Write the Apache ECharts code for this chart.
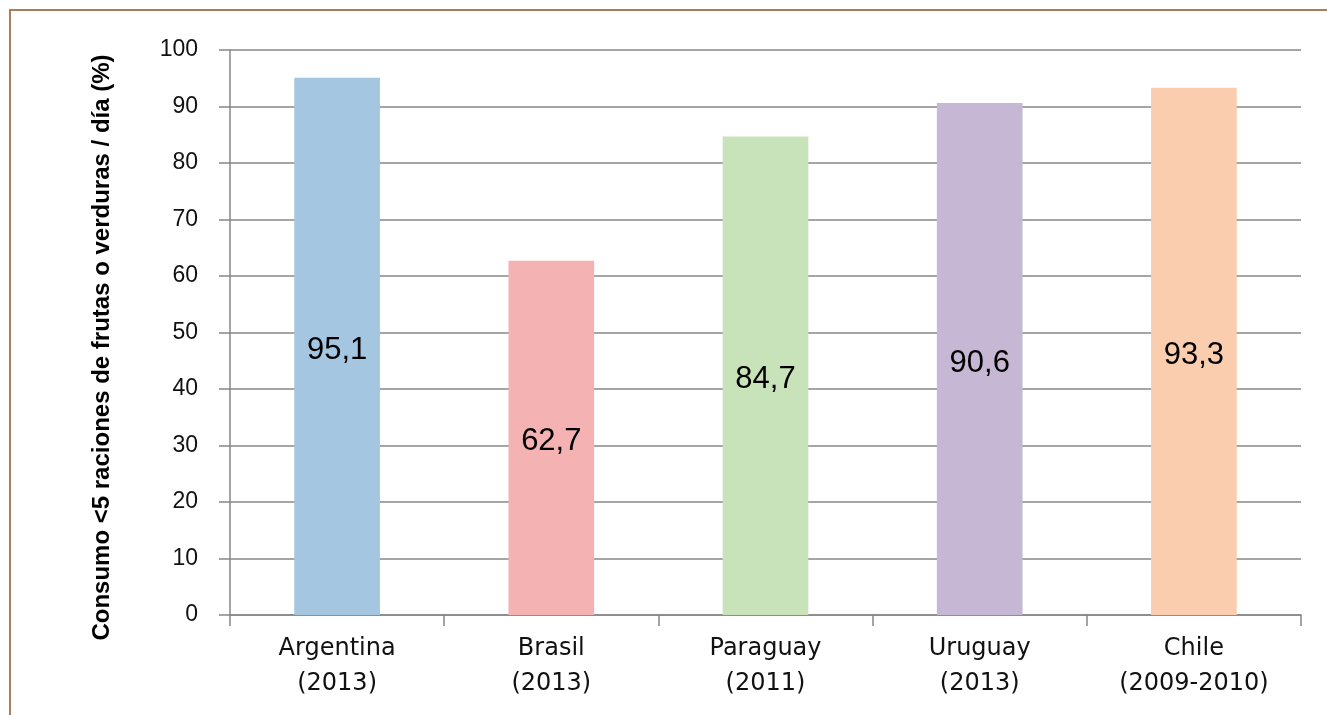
<!DOCTYPE html>
<html>
<head>
<meta charset="utf-8">
<script src="https://cdn.jsdelivr.net/npm/echarts@6/dist/echarts.min.js"></script>
<style>
html,body{margin:0;padding:0;background:#fff;}
#c{width:1327px;height:715px;}
</style>
</head>
<body>
<div id="c"></div>
<script>
const categories = ['Argentina\n(2013)', 'Brasil\n(2013)', 'Paraguay\n(2011)', 'Uruguay\n(2013)', 'Chile\n(2009-2010)'];
const values = [95.1, 62.7, 84.7, 90.6, 93.3];
const barColors = ['#a5c6e1', '#f4b3b2', '#c8e2b9', '#c6b8d4', '#fbcdaf'];
const yAxisName = 'Consumo <5 raciones de frutas o verduras / día (%)';

const chart = echarts.init(document.getElementById('c'));
chart.setOption({
  animation: false,
  graphic: [{
    type: 'rect',
    shape: { x: 10, y: 10, width: 1400, height: 800 },
    style: { fill: 'none', stroke: '#a87d58', lineWidth: 2 },
    silent: true
  }],
  grid: { left: 230, right: 26, top: 50, bottom: 100 },
  xAxis: {
    type: 'category',
    data: categories,
    axisLine: { lineStyle: { color: '#878787', width: 1.5 } },
    axisTick: { show: true, length: 11, lineStyle: { color: '#878787', width: 1.5 } },
    axisLabel: { fontSize: 24, lineHeight: 35, color: '#111', margin: 16, fontFamily: 'DejaVu Sans, sans-serif' }
  },
  yAxis: {
    type: 'value',
    min: 0, max: 100, interval: 10,
    name: yAxisName,
    nameLocation: 'middle',
    nameGap: 116,
    nameRotate: 90,
    nameTextStyle: { fontSize: 24, fontWeight: 'bold', color: '#000', fontFamily: 'Liberation Sans, Arial, sans-serif', padding: [0, 30, 0, 0] },
    axisLine: { show: true, lineStyle: { color: '#878787', width: 1.5 } },
    axisTick: { show: true, length: 11, lineStyle: { color: '#878787', width: 1.5 } },
    axisLabel: { fontSize: 23, color: '#111', margin: 32, fontFamily: 'Liberation Sans, Arial, sans-serif' },
    splitLine: { lineStyle: { color: '#878787', width: 1.5 } }
  },
  series: [{
    type: 'bar',
    data: values.map((v, i) => ({ value: v, itemStyle: { color: barColors[i] } })),
    barWidth: '40%',
    label: {
      show: true,
      position: 'inside',
      offset: [0, 4],
      fontSize: 31,
      color: '#000',
      fontFamily: 'Liberation Sans, Arial, sans-serif',
      formatter: p => String(p.value).replace('.', ',')
    }
  }]
});
</script>
</body>
</html>
